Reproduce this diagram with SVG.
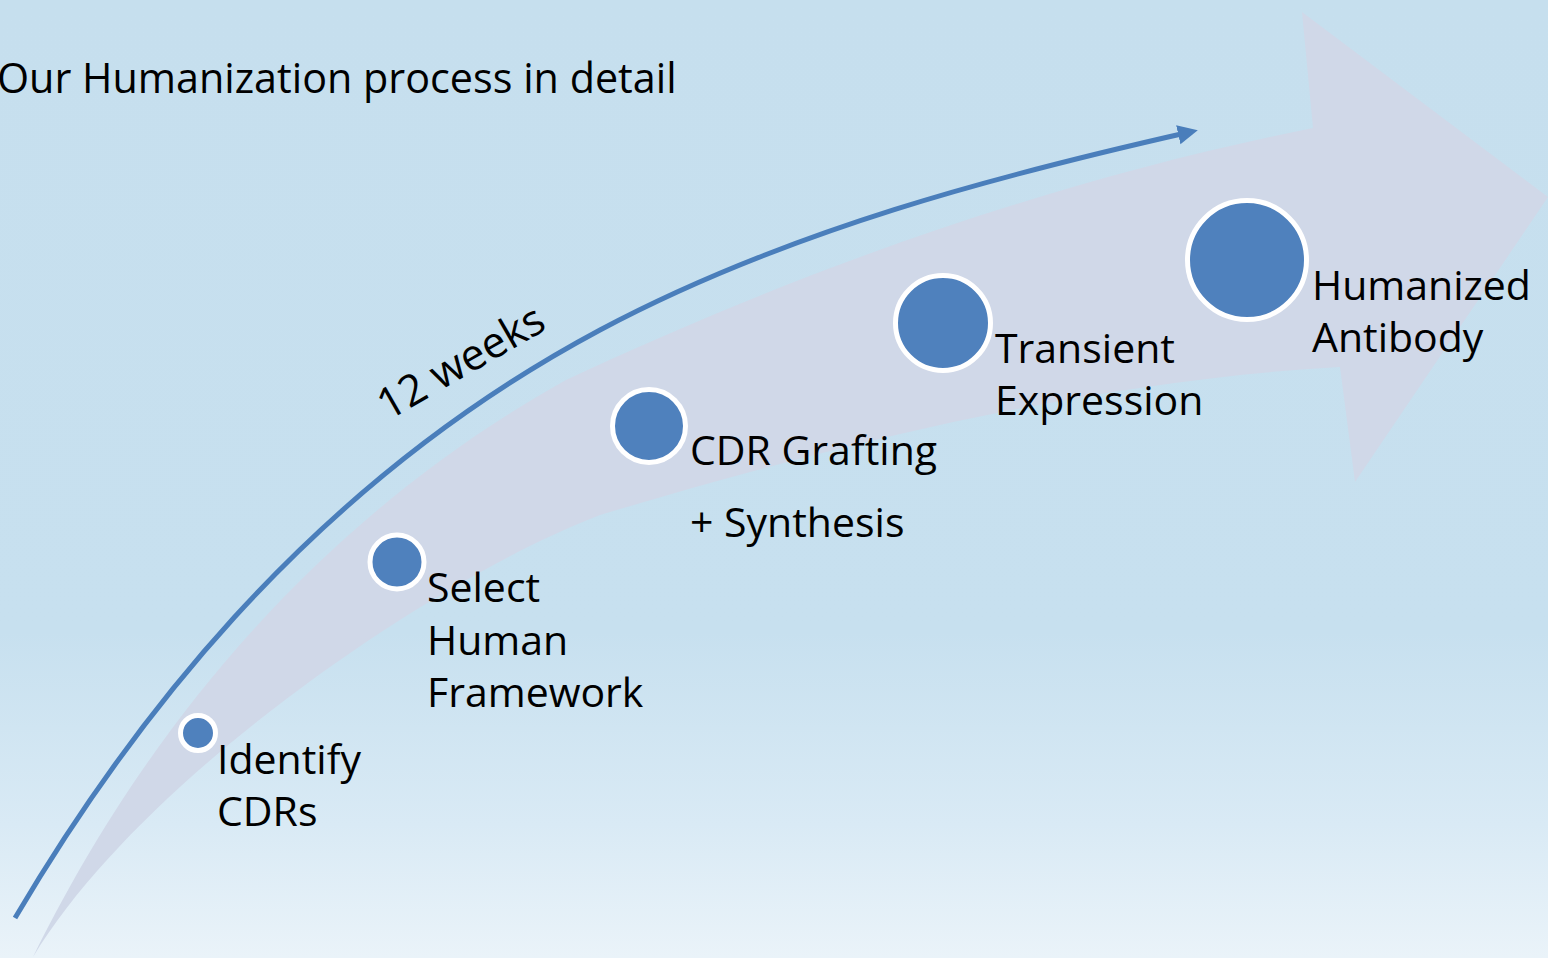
<svg xmlns="http://www.w3.org/2000/svg" width="1548" height="958" viewBox="0 0 1548 958">
<defs>
<linearGradient id="bg" x1="0" y1="0" x2="0" y2="1">
<stop offset="0" stop-color="#c6dfee"/>
<stop offset="0.66" stop-color="#c7e0ef"/>
<stop offset="0.86" stop-color="#d9eaf5"/>
<stop offset="1" stop-color="#eaf3f9"/>
</linearGradient>
<marker id="ah" markerWidth="4.5" markerHeight="4.5" refX="2.4" refY="2.25" orient="auto" markerUnits="strokeWidth">
<path d="M0,0.3 L4,2.25 L0,4.2 Z" fill="#4a7ebb"/>
</marker>
<style>
.t{font-family:"Open Sans","Liberation Sans",sans-serif;font-size:41px;fill:#000}
.dot{fill:#4f81bd;stroke:#fff;stroke-width:5}
</style>
</defs>
<rect width="1548" height="958" fill="url(#bg)"/>
<path id="bigarrow" d="M33,957 C120,780 280,540 566,380 C780,280 1030,185 1313,128 L1302,12 L1548,197 L1355,482 L1340,367 C1100,380 850,440 600,515 C430,580 140,780 33,957 Z" fill="#d0d8e8"/>
<g id="connectors">
<path d="M15,918 C120,740 300,490 600,330 C788,230 1000,175 1190,132" fill="none" stroke="#4a7ebb" stroke-width="5" marker-end="url(#ah)"/>
</g>
<text class="t" x="-3" y="93" style="font-size:41.3px">Our Humanization process in detail</text>
<text class="t" transform="translate(388,421) rotate(-30)" style="font-size:43px">12 weeks</text>
<g id="n1"><circle class="dot" cx="198" cy="733" r="17.5"/><text class="t" x="217" y="774">Identify</text><text class="t" x="217" y="826">CDRs</text></g>
<g id="n2"><circle class="dot" cx="397" cy="562" r="27"/><text class="t" x="427" y="602">Select</text><text class="t" x="427" y="655">Human</text><text class="t" x="427" y="707">Framework</text></g>
<g id="n3"><circle class="dot" cx="649" cy="426" r="36.5"/><text class="t" x="690" y="465">CDR Grafting</text><text class="t" x="690" y="537">+ Synthesis</text></g>
<g id="n4"><circle class="dot" cx="943" cy="323" r="47.5"/><text class="t" x="995" y="363">Transient</text><text class="t" x="995" y="415">Expression</text></g>
<g id="n5"><circle class="dot" cx="1247" cy="260" r="59.5"/><text class="t" x="1312" y="300">Humanized</text><text class="t" x="1312" y="352">Antibody</text></g>
</svg>
